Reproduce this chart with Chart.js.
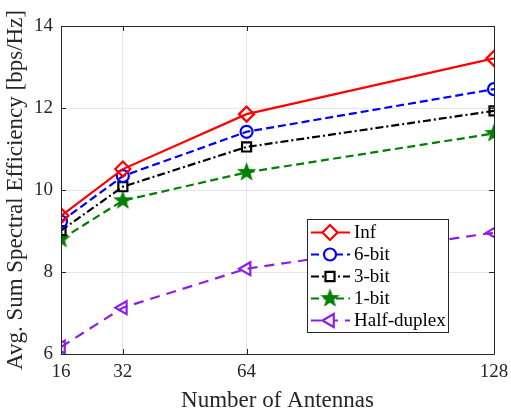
<!DOCTYPE html>
<html><head><meta charset="utf-8">
<script src="https://cdn.jsdelivr.net/npm/chart.js@4.4.1/dist/chart.umd.min.js"></script>
<style>html,body{margin:0;padding:0;background:#fff}#wrap{width:511px;height:415px}</style>
</head><body><div id="wrap"><canvas id="c" width="511" height="415"></canvas></div>
<script>
const antennas = [16, 32, 64, 128];
const infVals = [9.37, 10.51, 11.85, 13.21];
const bit6Vals = [9.23, 10.34, 11.42, 12.46];
const bit3Vals = [9.01, 10.08, 11.05, 11.93];
const bit1Vals = [8.80, 9.74, 10.43, 11.38];
const halfVals = [6.17, 7.13, 8.08, 8.96];
const xTicks = [16, 32, 64, 128];
const yTicks = [6, 8, 10, 12, 14];
const seriesLabels = ['Inf', '6-bit', '3-bit', '1-bit', 'Half-duplex'];

const FONT = '"Liberation Serif", "Times New Roman", serif';

function makeStar(color, r) {
  const s = Math.ceil(r * 2 + 4);
  const cv = document.createElement('canvas');
  cv.width = s; cv.height = s;
  const c = cv.getContext('2d');
  const cx = s / 2, cy = s / 2, ri = r * 0.42;
  c.beginPath();
  for (let i = 0; i < 10; i++) {
    const rr = i % 2 === 0 ? r : ri;
    const a = -Math.PI / 2 + i * Math.PI / 5;
    const px = cx + rr * Math.cos(a), py = cy + rr * Math.sin(a);
    if (i === 0) c.moveTo(px, py); else c.lineTo(px, py);
  }
  c.closePath();
  c.fillStyle = color; c.fill();
  c.lineWidth = 1.2; c.strokeStyle = color; c.stroke();
  return cv;
}
const starImg = makeStar('#008000', 8.5);

const PURPLE = '#8E1EE6';
const styles = [
  {color: '#FF0000', dash: [], pointStyle: 'rectRot', radius: 7.5, rotation: 0},
  {color: '#0000FF', dash: [8, 4], pointStyle: 'circle', radius: 6, rotation: 0},
  {color: '#000000', dash: [8, 3, 2, 3], pointStyle: 'rect', radius: 6.4, rotation: 0},
  {color: '#008000', dash: [8, 4.5], pointStyle: starImg, radius: 8, rotation: 0},
  {color: PURPLE, dash: [10, 7], pointStyle: 'triangle', radius: 7.5, rotation: -90}
];
const valueSets = [infVals, bit6Vals, bit3Vals, bit1Vals, halfVals];

const datasets = valueSets.map((vals, i) => ({
  label: seriesLabels[i],
  data: antennas.map((a, j) => ({x: a, y: vals[j]})),
  borderColor: styles[i].color,
  backgroundColor: 'rgba(255,255,255,0)',
  borderWidth: 2.2,
  borderDash: styles[i].dash,
  pointStyle: styles[i].pointStyle,
  pointRadius: styles[i].radius,
  pointRotation: styles[i].rotation,
  pointBorderColor: styles[i].color,
  pointBackgroundColor: 'rgba(255,255,255,0)',
  pointBorderWidth: 2.2,
  tension: 0,
  fill: false
}));

const framePlugin = {
  id: 'frame',
  afterDatasetsDraw(chart) {
    const {ctx, chartArea: a, scales: {x, y}} = chart;
    ctx.save();
    ctx.strokeStyle = '#262626';
    ctx.lineWidth = 1;
    ctx.setLineDash([]);
    ctx.beginPath();
    ctx.rect(a.left + 0.5, a.top + 0.5, a.right - a.left, a.bottom - a.top);
    ctx.stroke();
    const tl = 5;
    ctx.beginPath();
    xTicks.forEach(t => {
      const px = Math.round(x.getPixelForValue(t)) + 0.5;
      ctx.moveTo(px, a.bottom); ctx.lineTo(px, a.bottom - tl);
      ctx.moveTo(px, a.top); ctx.lineTo(px, a.top + tl);
    });
    yTicks.forEach(t => {
      const py = Math.round(y.getPixelForValue(t)) + 0.5;
      ctx.moveTo(a.left, py); ctx.lineTo(a.left + tl, py);
      ctx.moveTo(a.right, py); ctx.lineTo(a.right - tl, py);
    });
    ctx.stroke();

    // legend
    const bx = 307, by = 219, bw = 141, bh = 113;
    ctx.fillStyle = '#fff';
    ctx.fillRect(bx, by, bw, bh);
    ctx.strokeStyle = '#262626';
    ctx.strokeRect(bx + 0.5, by + 0.5, bw, bh);
    ctx.font = '19px ' + FONT;
    ctx.textBaseline = 'middle';
    chart.data.datasets.forEach((ds, i) => {
      const yy = by + 13.5 + i * 22;
      ctx.strokeStyle = ds.borderColor;
      ctx.lineWidth = 2.2;
      ctx.setLineDash(ds.borderDash);
      ctx.beginPath(); ctx.moveTo(bx + 4, yy); ctx.lineTo(bx + 43, yy); ctx.stroke();
      ctx.setLineDash([]);
      ctx.fillStyle = '#fff';
      Chart.helpers.drawPoint(ctx, {pointStyle: ds.pointStyle, radius: ds.pointRadius, rotation: ds.pointRotation, borderWidth: 2.2}, bx + 23, yy);
      ctx.fillStyle = '#000';
      ctx.fillText(ds.label, bx + 47, yy + 1);
    });
    ctx.restore();
  }
};

new Chart(document.getElementById('c'), {
  type: 'line',
  data: {datasets},
  plugins: [framePlugin],
  options: {
    responsive: false,
    animation: false,
    layout: {padding: {left: 0, right: 17, top: 26, bottom: 0}},
    plugins: {legend: {display: false}, tooltip: {enabled: false}},
    scales: {
      x: {
        type: 'linear', min: 16, max: 128,
        afterBuildTicks: s => { s.ticks = xTicks.map(v => ({value: v})); },
        afterFit: s => { s.height = 61; s.paddingRight = 0; },
        grid: {color: '#E6E6E6', drawTicks: false, lineWidth: 1},
        border: {display: false},
        ticks: {font: {family: FONT, size: 19}, color: '#262626', padding: 7, maxRotation: 0},
        title: {display: true, text: 'Number of Antennas', font: {family: FONT, size: 23}, color: '#262626', padding: {top: 3, bottom: 0}}
      },
      y: {
        type: 'linear', min: 6, max: 14,
        afterBuildTicks: s => { s.ticks = yTicks.map(v => ({value: v})); },
        afterFit: s => { s.width = 61; },
        grid: {color: '#E6E6E6', drawTicks: false, lineWidth: 1},
        border: {display: false},
        ticks: {font: {family: FONT, size: 19}, color: '#262626', padding: 8},
        title: {display: true, text: 'Avg. Sum Spectral Efficiency [bps/Hz]', font: {family: FONT, size: 23}, color: '#262626', padding: {top: 2, bottom: 0}}
      }
    }
  }
});
</script></body></html>
